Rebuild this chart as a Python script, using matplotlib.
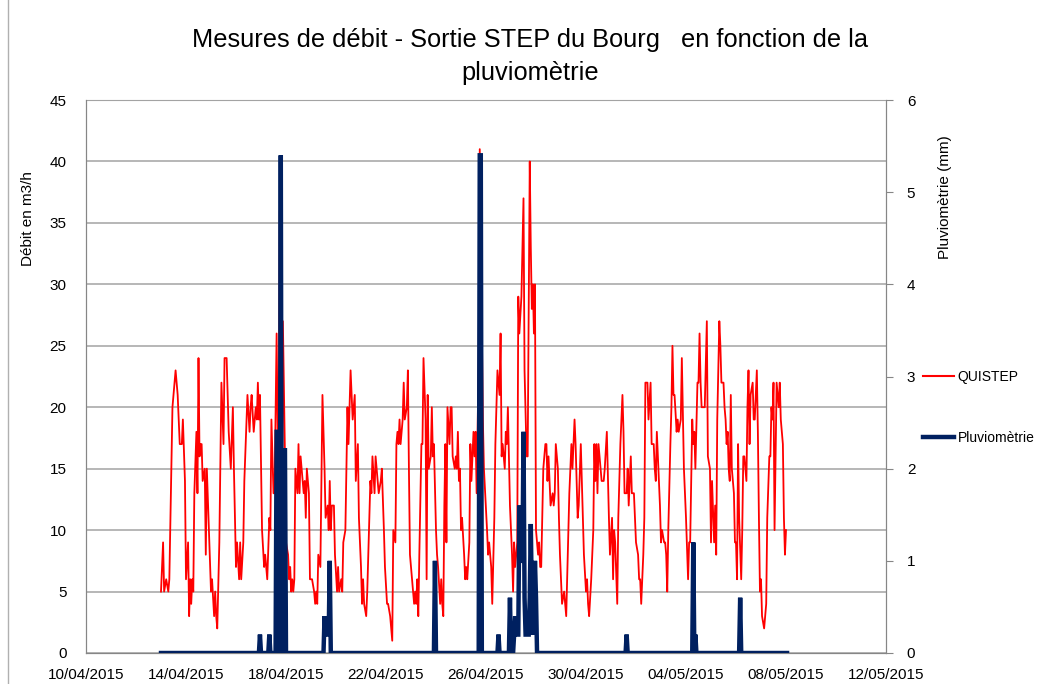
import numpy as np
import matplotlib
matplotlib.use("Agg")
import matplotlib.pyplot as plt
import matplotlib.dates as mdates
from matplotlib.lines import Line2D

plt.rcParams['font.family'] = ['Liberation Sans', 'DejaVu Sans']

# ---------------- data ----------------
START = np.datetime64('2015-04-13T00:00')

# QUISTEP flow (m3/h): hours after 13/04/2015 00:00 and values
flow_hours = [
    0, 2, 3, 5, 7, 8, 11, 14, 16, 18, 20, 21, 23, 24, 26, 27, 28, 29, 30, 31,
    32, 34, 35, 36, 37, 38, 39, 40, 42, 43, 44, 46, 48, 49, 51, 52, 53, 54, 56, 58,
    60, 61, 63, 65, 67, 69, 70, 72, 73, 75, 76, 77, 79, 80, 83, 85, 86, 87, 89, 91,
    92, 93, 94, 95, 97, 99, 100, 101, 102, 104, 105, 106, 108, 109, 111, 112, 113, 114, 115, 116,
    117, 119, 120, 122, 123, 124, 125, 126, 127, 128, 129, 131, 132, 133, 134, 136, 137, 138, 139, 140,
    142, 143, 145, 147, 148, 149, 150, 151, 153, 155, 157, 158, 160, 161, 162, 163, 164, 166, 167, 169,
    170, 171, 173, 174, 175, 177, 179, 180, 182, 184, 185, 186, 187, 189, 190, 192, 193, 194, 195, 197,
    198, 200, 201, 202, 203, 205, 206, 207, 209, 211, 212, 214, 215, 217, 218, 220, 222, 223, 225, 226,
    227, 228, 229, 230, 232, 233, 234, 236, 237, 238, 239, 241, 243, 244, 245, 246, 247, 248, 250, 251,
    252, 254, 255, 256, 257, 259, 260, 261, 262, 264, 265, 266, 268, 269, 270, 271, 272, 273, 274, 275,
    277, 278, 279, 280, 282, 283, 284, 285, 286, 287, 288, 289, 291, 292, 293, 294, 296, 297, 298, 300,
    301, 302, 303, 305, 306, 309, 310, 313, 314, 315, 316, 317, 318, 320, 321, 323, 325, 326, 327, 328,
    330, 331, 332, 333, 335, 337, 338, 339, 340, 342, 343, 344, 346, 348, 349, 351, 352, 354, 355, 356,
    357, 358, 359, 360, 362, 363, 364, 365, 367, 369, 370, 371, 372, 374, 376, 377, 378, 379, 381, 382,
    383, 385, 387, 388, 389, 392, 394, 395, 397, 398, 400, 401, 403, 404, 406, 408, 409, 410, 411, 413,
    415, 416, 417, 418, 419, 420, 422, 423, 425, 426, 428, 430, 431, 433, 434, 435, 436, 438, 439, 441,
    443, 444, 445, 447, 448, 449, 451, 452, 454, 455, 456, 458, 459, 460, 461, 463, 464, 465, 467, 468,
    470, 471, 473, 474, 475, 476, 477, 479, 480, 481, 483, 484, 485, 486, 487, 489, 490, 491, 492, 493,
    495, 496, 497, 499, 500, 502, 504, 506, 507, 508, 510, 511, 512, 513, 515, 516, 517, 518, 519, 521,
    522, 524, 525, 527, 528, 529, 531, 532, 533, 534, 536, 537, 538, 540, 541, 542, 543, 544, 545, 546,
    547, 548, 550, 551, 552, 553, 554, 555, 557, 558, 559, 560, 562, 563, 564, 565, 566, 568, 569, 570,
    572, 573, 574, 575, 576, 577, 579, 580, 581, 582, 584, 585, 586, 587, 588, 589, 591, 593, 594, 595,
    597, 598, 599, 600,
]
flow_values = [
    5, 9, 5, 6, 5, 6, 20, 23, 21, 17, 17, 19, 14, 6, 9, 3, 6, 4, 6, 5,
    13, 18, 13, 24, 16, 17, 17, 14, 15, 8, 15, 10, 5, 6, 3, 5, 3, 2, 9, 22,
    17, 24, 24, 18, 15, 20, 15, 7, 9, 6, 9, 6, 9, 14, 21, 18, 20, 21, 18, 20,
    19, 22, 19, 21, 10, 7, 8, 7, 6, 11, 10, 19, 13, 13, 26, 18, 17, 36, 16, 7,
    27, 16, 9, 8, 6, 7, 5, 6, 5, 6, 15, 13, 17, 13, 16, 14, 13, 14, 11, 15,
    13, 6, 6, 5, 4, 5, 4, 8, 7, 21, 15, 11, 12, 10, 14, 10, 12, 12, 8, 5,
    7, 5, 6, 5, 9, 10, 20, 17, 23, 19, 20, 21, 14, 17, 11, 7, 4, 6, 4, 3,
    5, 11, 14, 13, 16, 13, 16, 15, 13, 14, 15, 10, 7, 4, 4, 3, 1, 10, 9, 17,
    18, 17, 19, 17, 19, 22, 19, 20, 23, 15, 8, 6, 4, 5, 4, 6, 3, 8, 17, 17,
    24, 19, 6, 21, 15, 16, 20, 16, 17, 10, 8, 7, 4, 6, 4, 3, 12, 17, 9, 20,
    17, 20, 20, 16, 15, 16, 15, 18, 14, 15, 10, 11, 8, 6, 7, 6, 9, 17, 14, 18,
    16, 18, 13, 24, 41, 19, 15, 10, 8, 9, 8, 7, 4, 11, 17, 23, 21, 26, 16, 17,
    15, 18, 17, 20, 12, 8, 5, 9, 7, 9, 29, 26, 29, 37, 23, 16, 16, 40, 33, 28,
    30, 26, 30, 10, 8, 9, 7, 7, 15, 17, 17, 14, 16, 12, 13, 12, 13, 17, 15, 11,
    8, 4, 5, 4, 3, 13, 17, 15, 19, 17, 11, 12, 17, 14, 8, 5, 6, 4, 3, 6,
    10, 17, 14, 17, 13, 17, 15, 14, 14, 15, 18, 11, 8, 11, 6, 10, 9, 4, 11, 17,
    21, 18, 13, 13, 15, 12, 16, 13, 13, 11, 9, 8, 6, 6, 4, 8, 11, 22, 22, 19,
    22, 17, 17, 15, 14, 18, 16, 12, 9, 10, 9, 9, 8, 5, 10, 17, 20, 25, 21, 21,
    18, 19, 18, 19, 24, 15, 11, 6, 9, 9, 19, 17, 18, 15, 22, 22, 26, 22, 20, 20,
    20, 27, 16, 15, 9, 14, 9, 12, 8, 19, 27, 25, 22, 22, 20, 19, 17, 18, 15, 14,
    21, 15, 13, 9, 9, 6, 17, 11, 6, 10, 16, 16, 14, 20, 23, 17, 21, 22, 19, 19,
    23, 18, 11, 5, 6, 3, 2, 3, 4, 11, 16, 16, 20, 19, 22, 10, 22, 20, 22, 19,
    17, 11, 8, 10,
]

# Rain gauge (mm), hourly from 13/04/2015 00:00; only the non-zero hours listed
pluvio_last_hour = 601
pluvio_event_hours = [95, 104, 111, 112, 115, 118, 119,
                      157, 158, 159, 160, 161, 162,
                      263, 306, 307, 324,
                      335, 339, 340, 341, 342, 343, 344, 345, 346, 347, 348, 349,
                      350, 351, 352, 353, 354, 355, 356, 357, 358, 359, 360,
                      447, 511, 513, 556]
pluvio_event_mm = [0.2, 0.2, 2.4, 2.4, 5.4, 2.2, 2.2,
                   0.4, 0.2, 0.2, 0.2, 0.2, 1.0,
                   1.0, 5.4, 5.4, 0.2,
                   0.6, 0.2, 0.4, 0.2, 0.2, 0.2, 1.6, 1.0, 1.0, 1.0, 2.4, 0.6,
                   0.2, 0.2, 0.2, 0.2, 0.6, 1.4, 0.6, 0.2, 0.4, 1.0, 0.6,
                   0.2, 1.2, 0.2, 0.6]

series_labels = ['QUISTEP', 'Pluviomètrie']
title_text = 'Mesures de débit - Sortie STEP du Bourg   en fonction de la\npluviomètrie'
left_label = 'Débit en m3/h'
right_label = 'Pluviomètrie (mm)'

RED = '#FF0000'
NAVY = '#002060'
GRID = '#A3A3A3'
SPINE = '#868686'

# ---------------- build series ----------------
flow_t = START + np.array(flow_hours) * np.timedelta64(1, 'h')
pl_h = np.arange(0, pluvio_last_hour + 1)
pl_v = np.zeros(len(pl_h))
for h, v in zip(pluvio_event_hours, pluvio_event_mm):
    pl_v[h] = v
pl_t = START + pl_h * np.timedelta64(1, 'h')

# ---------------- figure ----------------
fig = plt.figure(figsize=(10.38, 6.84), dpi=100)
ax = fig.add_axes([86 / 1038, 1 - 653 / 684, 800 / 1038, 553 / 684])
ax2 = ax.twinx()

ax.plot(flow_t, flow_values, color=RED, lw=1.3, zorder=3)
ax2.plot(pl_t, pl_v, color=NAVY, lw=3.2, solid_joinstyle='miter', zorder=3)

ax.set_xlim(np.datetime64('2015-04-10'), np.datetime64('2015-05-12'))
ax.set_ylim(0, 45)
ax.set_yticks(np.arange(0, 46, 5))
ax2.set_ylim(0, 6)
ax2.set_yticks(np.arange(0, 7, 1))

ticks = np.arange(np.datetime64('2015-04-10'), np.datetime64('2015-05-13'), np.timedelta64(4, 'D'))
ax.set_xticks(ticks)
ax.xaxis.set_major_formatter(mdates.DateFormatter('%d/%m/%Y'))

ax.grid(axis='y', color=GRID, lw=1.1)
ax.set_axisbelow(True)
for sp in ['left', 'right', 'bottom']:
    ax.spines[sp].set_color(SPINE)
    ax2.spines[sp].set_color(SPINE)
ax.spines['top'].set_color(GRID)
ax2.spines['top'].set_visible(False)

FS = 11
ax.tick_params(axis='both', length=0, labelsize=FS, colors='black')
ax.tick_params(axis='y', pad=14)
ax.tick_params(axis='x', pad=11)
ax2.tick_params(axis='y', length=5, color=SPINE, labelsize=FS, pad=10)

fig.text(28 / 1038, 1 - 219 / 684, left_label, rotation=90, ha='center', va='center', fontsize=FS)
fig.text(945 / 1038, 1 - 197 / 684, right_label, rotation=90, ha='center', va='center', fontsize=FS)

fig.text(530 / 1038, 1 - 28 / 684, title_text, ha='center', va='top', fontsize=18.3,
         linespacing=1.45)

handles = [Line2D([], [], color=RED, lw=1.5), Line2D([], [], color=NAVY, lw=3.2)]
fig.legend(handles, series_labels, loc='upper left', bbox_to_anchor=(923 / 1038, 1 - 370 / 684),
           frameon=False, fontsize=10, labelspacing=3.35, handlelength=2.2, handletextpad=0.3,
           borderaxespad=0, borderpad=0)

fig.add_artist(Line2D([8 / 1038, 8 / 1038], [0, 1], color='#B0B0B0', lw=1.0, transform=fig.transFigure))

fig.savefig('out.png', dpi=100)
